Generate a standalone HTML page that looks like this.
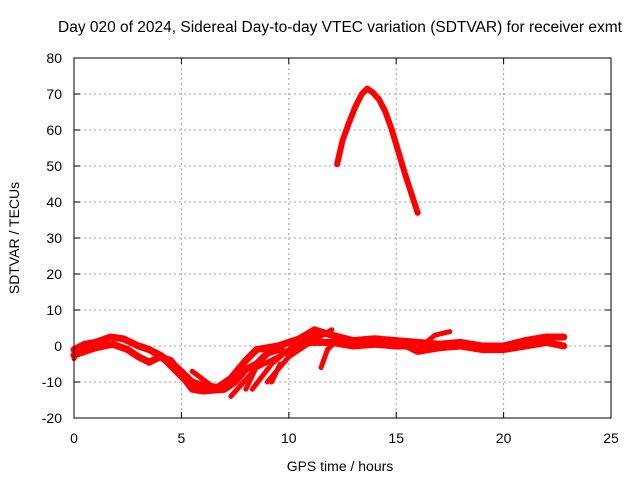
<!DOCTYPE html>
<html><head><meta charset="utf-8"><style>
body{margin:0;background:#fff;}
svg{display:block;font-family:"Liberation Sans",sans-serif;}
</style></head><body>
<svg id="chart" width="640" height="480">
<text x="340" y="32" font-size="15.5" text-anchor="middle">Day 020 of 2024, Sidereal Day-to-day VTEC variation (SDTVAR) for receiver exmt</text>
<g id="grid"></g><g id="ticks"></g><g id="series"></g>
<rect x="74" y="58" width="537" height="360" fill="none" stroke="#000" stroke-width="1"/>
<text x="340" y="471" font-size="14" text-anchor="middle">GPS time / hours</text>
<text transform="translate(19,238) rotate(-90)" font-size="14" text-anchor="middle">SDTVAR / TECUs</text>
</svg>
<script>
const xTicks=[0,5,10,15,20,25];
const yTicks=[-20,-10,0,10,20,30,40,50,60,70,80];
const arcHours=[12.25,12.5,12.8,13.1,13.4,13.65,13.9,14.2,14.5,14.8,15.1,15.4,15.7,16.0];
const arcValues=[50.5,57,62,66.5,70,71.5,70.5,68.5,65,60,54,48,42.5,37];
const track1Hours=[0,0.5,1,1.7,2.3,3,3.5,4,4.8,5.5,6,6.7,7.3,8,8.5,9.5,10.5,11.2,12,13,14,15,16,17,18,19,20,21,22,22.8];
const track1Values=[-1,0.5,1,2.5,2,0,-1,-2.5,-6,-10,-11,-11.5,-9,-4,-1,0,2,4.5,3,1.5,2,1.5,1,0.5,1,0,0,1.5,2.5,2.5];
const track2Hours=[0,1,1.8,2.5,3,3.5,4,4.5,5,5.5,6,7,7.5,8,8.5,9,9.5,10,10.5,11,12,13,14,15,15.5,16,17,18,19,20,21,22,22.8];
const track2Values=[-2.5,-0.5,0.5,-1,-3,-4.5,-3,-4,-8,-12,-12.5,-12,-10,-6.5,-5,-2,-1,-2,0,1,1,0,0.5,0,0,-1.5,-0.5,0,-1,-1,0,1,0];
const branchHours=[[3.2,4.2,5.2],[7.3,8.5,9.5,10.5,11.5],[8.3,9.2,10.2,11.2],[9,10,11,12],[11.5,11.8,12.3],[5.5,6.5],[8,8.4],[9.2,9.6],[15.5,16,16.8,17.5],[0,0.3]];
const branchValues=[[0,-4,-10],[-14,-6,-3,0.5,3.5],[-12,-5,0,3],[-10,-3,1,4.5],[-6,-1,2],[-7,-11.5],[-12,-7],[-10,-5],[1,-1,3,4],[-3.5,0]];
const X=h=>74+h*537/25, Y=v=>418-(v+20)*3.6;
const svg=document.getElementById('chart'),NS='http://www.w3.org/2000/svg';
const grid=document.getElementById('grid'),ticks=document.getElementById('ticks'),ser=document.getElementById('series');
function mk(t,a,p){const e=document.createElementNS(NS,t);for(const k in a)e.setAttribute(k,a[k]);p.appendChild(e);return e;}
xTicks.forEach(t=>{const x=X(t);
 if(t>0&&t<25){const g=mk('line',{x1:x,x2:x,y1:58,y2:418,stroke:'#a0a0a0','stroke-dasharray':'2,3'},grid);
 
 }
 mk('line',{x1:x,x2:x,y1:418,y2:412,stroke:'#000'},ticks);mk('line',{x1:x,x2:x,y1:58,y2:64,stroke:'#000'},ticks);
 const l=mk('text',{x:x,y:443,'font-size':14,'text-anchor':'middle'},ticks);l.textContent=t;
 
 });
yTicks.forEach(t=>{const y=Y(t);
 if(t>-20&&t<80){const g=mk('line',{x1:74,x2:611,y1:y,y2:y,stroke:'#a0a0a0','stroke-dasharray':'2,3'},grid);
 
 }
 mk('line',{x1:74,x2:80,y1:y,y2:y,stroke:'#000'},ticks);mk('line',{x1:611,x2:605,y1:y,y2:y,stroke:'#000'},ticks);
 const l=mk('text',{x:62,y:y+5,'font-size':14,'text-anchor':'end'},ticks);l.textContent=t;
 
 });
function line(hs,vs,w,name){const p=mk('polyline',{points:hs.map((h,i)=>X(h)+','+Y(vs[i])).join(' '),fill:'none',stroke:'#f00','stroke-width':w,'stroke-linejoin':'round','stroke-linecap':'round'},ser);
 
 }
line(arcHours,arcValues,6,'arc-series');
line(track1Hours,track1Values,7,'upper-track');
line(track2Hours,track2Values,7,'lower-track');
branchHours.forEach((hs,i)=>line(hs,branchValues[i],5,'branch-track'));
</script>
</body></html>
